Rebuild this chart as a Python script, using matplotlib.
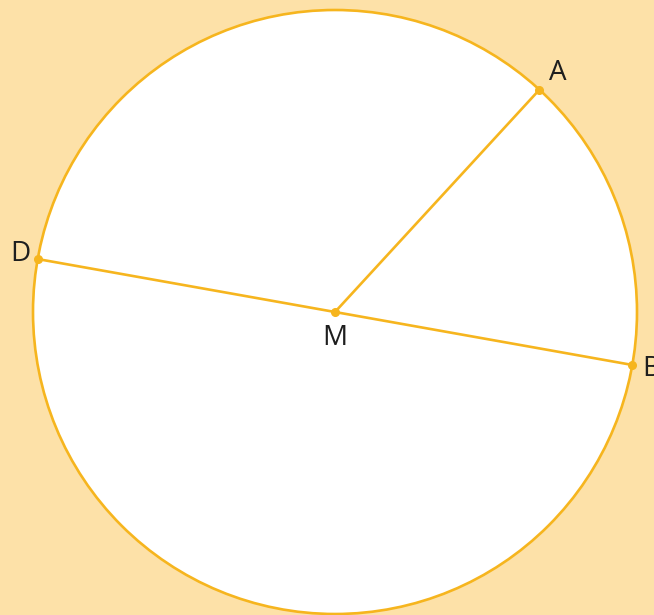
import numpy as np
import matplotlib
matplotlib.use("Agg")
import matplotlib.pyplot as plt
from matplotlib.patches import Circle

# circle geometry (pixel units of the figure)
center = (335, 312)
radius = 302

# points on the circle: name, angle in degrees
point_names = ["A", "D", "B"]
point_angles = [47.4, 169.9, -10.1]
label_offsets = [(19, 17), (-18, 5), (19, -4)]

edge_color = "#F6B51E"
bg_color = "#FDE1A8"
text_color = "#1E1E1E"

fig = plt.figure(figsize=(6.54, 6.15), dpi=100)
fig.patch.set_facecolor(bg_color)
ax = fig.add_axes([0, 0, 1, 1])
ax.set_xlim(0, 654)
ax.set_ylim(0, 615)
ax.set_aspect("equal")
ax.axis("off")

cx, cy = center[0], 615 - center[1]
ax.add_patch(Circle((cx, cy), radius, facecolor="white", edgecolor=edge_color, lw=1.9, zorder=1))

pts = {}
for name, ang in zip(point_names, point_angles):
    t = np.radians(ang)
    pts[name] = (cx + (radius - 0.5) * np.cos(t), cy + (radius - 0.5) * np.sin(t))

# segments: D-B diameter, M-A radius
ax.plot([pts["D"][0], pts["B"][0]], [pts["D"][1], pts["B"][1]], color=edge_color, lw=1.9, zorder=2)
ax.plot([cx, pts["A"][0]], [cy, pts["A"][1]], color=edge_color, lw=1.9, zorder=2)

for name, off in zip(point_names, label_offsets):
    x, y = pts[name]
    ax.plot(x, y, "o", color=edge_color, ms=5.5, zorder=3)
    ax.text(x + off[0], y + off[1], name, fontsize=20, family="Open Sans",
            color=text_color, ha="center", va="center", zorder=4)

ax.plot(cx, cy, "o", color=edge_color, ms=5.5, zorder=3)
ax.text(cx, cy - 26, "M", fontsize=20, family="Open Sans",
        color=text_color, ha="center", va="center", zorder=4)

fig.savefig("out.png", dpi=100, facecolor=bg_color)
